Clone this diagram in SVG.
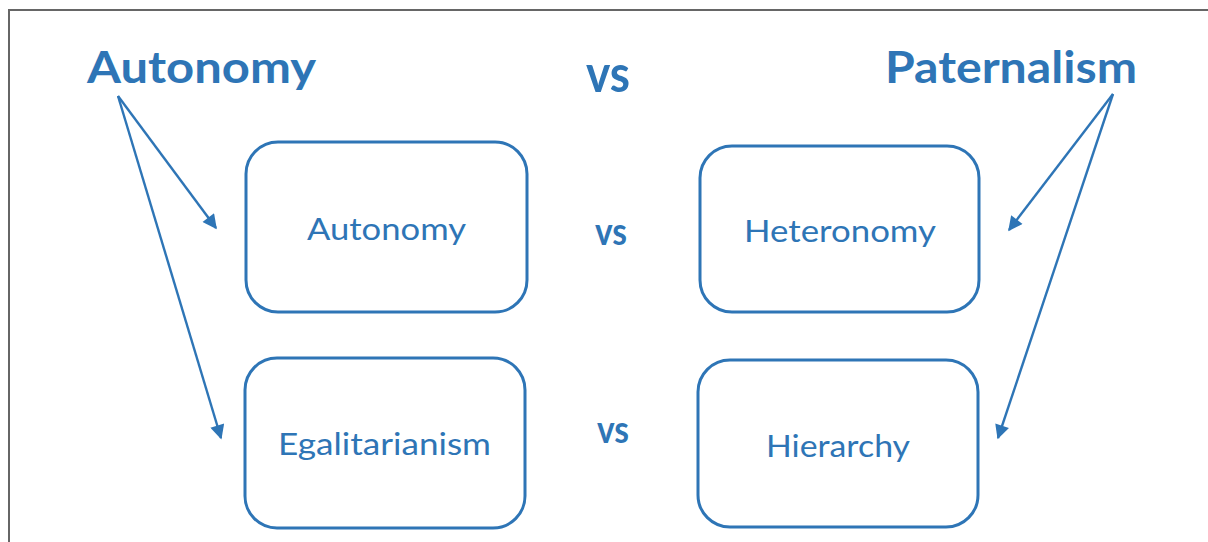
<svg xmlns="http://www.w3.org/2000/svg" width="1208" height="542" viewBox="0 0 1208 542">
<defs>
<style>
.t{font-family:Lato,"Liberation Sans",sans-serif;fill:#2E75B6}
.b{font-weight:bold}
.box{fill:#fff;stroke:#2E75B6;stroke-width:3}
.ln{stroke:#2E75B6;stroke-width:2.4;fill:none}
</style>
<marker id="ah" viewBox="0 0 10 10" refX="9" refY="5" markerWidth="6.5" markerHeight="6" markerUnits="strokeWidth" orient="auto">
<path d="M0,0 L10,5 L0,10 z" fill="#2E75B6"/>
</marker>
</defs>
<rect width="1208" height="542" fill="#fff"/>
<path d="M9,542 V10 H1208" fill="none" stroke="#666" stroke-width="2"/>
<g id="title-autonomy"><text class="t b" x="87" y="83" font-size="43" textLength="229" lengthAdjust="spacingAndGlyphs">Autonomy</text></g>
<g id="title-vs"><text class="t b" x="586" y="92" font-size="51" textLength="44" lengthAdjust="spacingAndGlyphs">vs</text></g>
<g id="title-paternalism"><text class="t b" x="885" y="83" font-size="43" textLength="252" lengthAdjust="spacingAndGlyphs">Paternalism</text></g>
<g id="node-autonomy"><rect class="box" x="246" y="142" width="281" height="170" rx="32"/><text class="t" x="307" y="240" font-size="31" textLength="159" lengthAdjust="spacingAndGlyphs">Autonomy</text></g>
<g id="vs-1"><text class="t b" x="595" y="245" font-size="39" textLength="32" lengthAdjust="spacingAndGlyphs">vs</text></g>
<g id="node-heteronomy"><rect class="box" x="700" y="146" width="279" height="166" rx="32"/><text class="t" x="744" y="242" font-size="31" textLength="192" lengthAdjust="spacingAndGlyphs">Heteronomy</text></g>
<g id="node-egalitarianism"><rect class="box" x="245" y="358" width="280" height="170" rx="32"/><text class="t" x="278" y="455" font-size="31" textLength="213" lengthAdjust="spacingAndGlyphs">Egalitarianism</text></g>
<g id="vs-2"><text class="t b" x="597" y="443" font-size="39" textLength="32" lengthAdjust="spacingAndGlyphs">vs</text></g>
<g id="node-hierarchy"><rect class="box" x="698" y="360" width="280" height="167" rx="32"/><text class="t" x="766" y="457" font-size="31" textLength="144" lengthAdjust="spacingAndGlyphs">Hierarchy</text></g>
<g id="connectors">
<line class="ln" x1="118" y1="96" x2="216" y2="228" marker-end="url(#ah)"/>
<line class="ln" x1="118" y1="96" x2="221" y2="438" marker-end="url(#ah)"/>
<line class="ln" x1="1113" y1="94" x2="1009" y2="230" marker-end="url(#ah)"/>
<line class="ln" x1="1113" y1="94" x2="998" y2="438" marker-end="url(#ah)"/>
</g>
</svg>
